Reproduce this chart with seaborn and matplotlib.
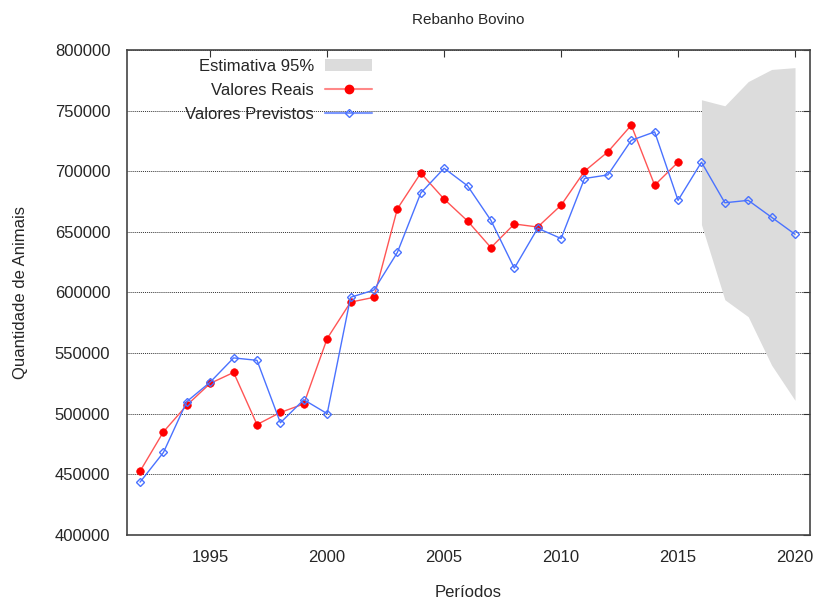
import numpy as np
import pandas as pd
import seaborn as sns
import matplotlib.pyplot as plt
from matplotlib.patches import Patch
from matplotlib.lines import Line2D

# Dados
anos_reais = list(range(1992, 2016))
valores_reais = [452500, 485000, 507000, 525000, 534000, 491000, 501000, 508000,
                 562000, 592000, 596000, 669000, 698500, 677000, 659000, 637000,
                 656500, 654000, 672000, 700000, 716000, 738000, 688500, 707500]

anos_previstos = list(range(1992, 2021))
valores_previstos = [443500, 468000, 510000, 526000, 546000, 544000, 492500, 511500,
                     500000, 596000, 602000, 633000, 682000, 702500, 688000, 659500,
                     620000, 653000, 644500, 694000, 697000, 725500, 732500, 676000,
                     707500, 674000, 676000, 662000, 648000]

anos_banda = [2016, 2017, 2018, 2019, 2020]
banda_sup = [759000, 754000, 774000, 784000, 785500]
banda_inf = [656000, 594000, 580000, 540000, 511000]

df_reais = pd.DataFrame({'ano': anos_reais, 'valor': valores_reais})
df_prev = pd.DataFrame({'ano': anos_previstos, 'valor': valores_previstos})

sns.set_style('white')
plt.rcParams['font.family'] = ['Liberation Sans', 'DejaVu Sans']

fig, ax = plt.subplots(figsize=(8.19, 6.03), dpi=100)
fig.subplots_adjust(left=0.155, right=0.989, top=0.917, bottom=0.113)

ax.fill_between(anos_banda, banda_inf, banda_sup, color='#dcdcdc', lw=0, zorder=1)

sns.lineplot(data=df_reais, x='ano', y='valor', ax=ax, color='#ff5555', lw=1,
             zorder=3)
sns.scatterplot(data=df_reais, x='ano', y='valor', ax=ax, color='red', s=30,
                edgecolor='red', zorder=4)
sns.lineplot(data=df_prev, x='ano', y='valor', ax=ax, color='#4a72ff', lw=1,
             marker='D', markersize=4, markerfacecolor='none',
             markeredgecolor='#4a72ff', markeredgewidth=1, zorder=5)

ax.set_xlim(1991.44, 2020.64)
ax.set_ylim(400000, 800000)
ax.set_xticks(range(1995, 2021, 5))
ax.set_yticks(range(400000, 800001, 50000))
ax.yaxis.grid(True, color='#333333', ls=(0, (1, 1)), lw=0.7)
ax.tick_params(direction='in', top=True, right=True, length=5, labelsize=12,
               color='#333333')
ax.tick_params(axis='y', pad=12)
ax.tick_params(axis='x', pad=11)
for s in ax.spines.values():
    s.set_color('#444444')
    s.set_linewidth(1.2)

ax.set_title('Rebanho Bovino', fontsize=11, pad=19)
ax.set_xlabel('Períodos', fontsize=12, labelpad=14)
ax.set_ylabel('Quantidade de Animais', fontsize=12, labelpad=19)

handles = [Patch(facecolor='#dcdcdc', edgecolor='none'),
           Line2D([], [], color='#ff8888', lw=1.5, marker='o', markersize=6,
                  markerfacecolor='red', markeredgecolor='red'),
           Line2D([], [], color='#7a96ff', lw=1.5, marker='D', markersize=4,
                  markerfacecolor='none', markeredgecolor='#4a72ff')]
ax.legend(handles, ['Estimativa 95%', 'Valores Reais', 'Valores Previstos'],
          loc='upper right', bbox_to_anchor=(0.359, 0.982), frameon=False,
          markerfirst=False, fontsize=12, handlelength=2.8, labelspacing=0.55,
          borderpad=0, borderaxespad=0, handletextpad=0.7)

plt.savefig('out.png', dpi=100)
